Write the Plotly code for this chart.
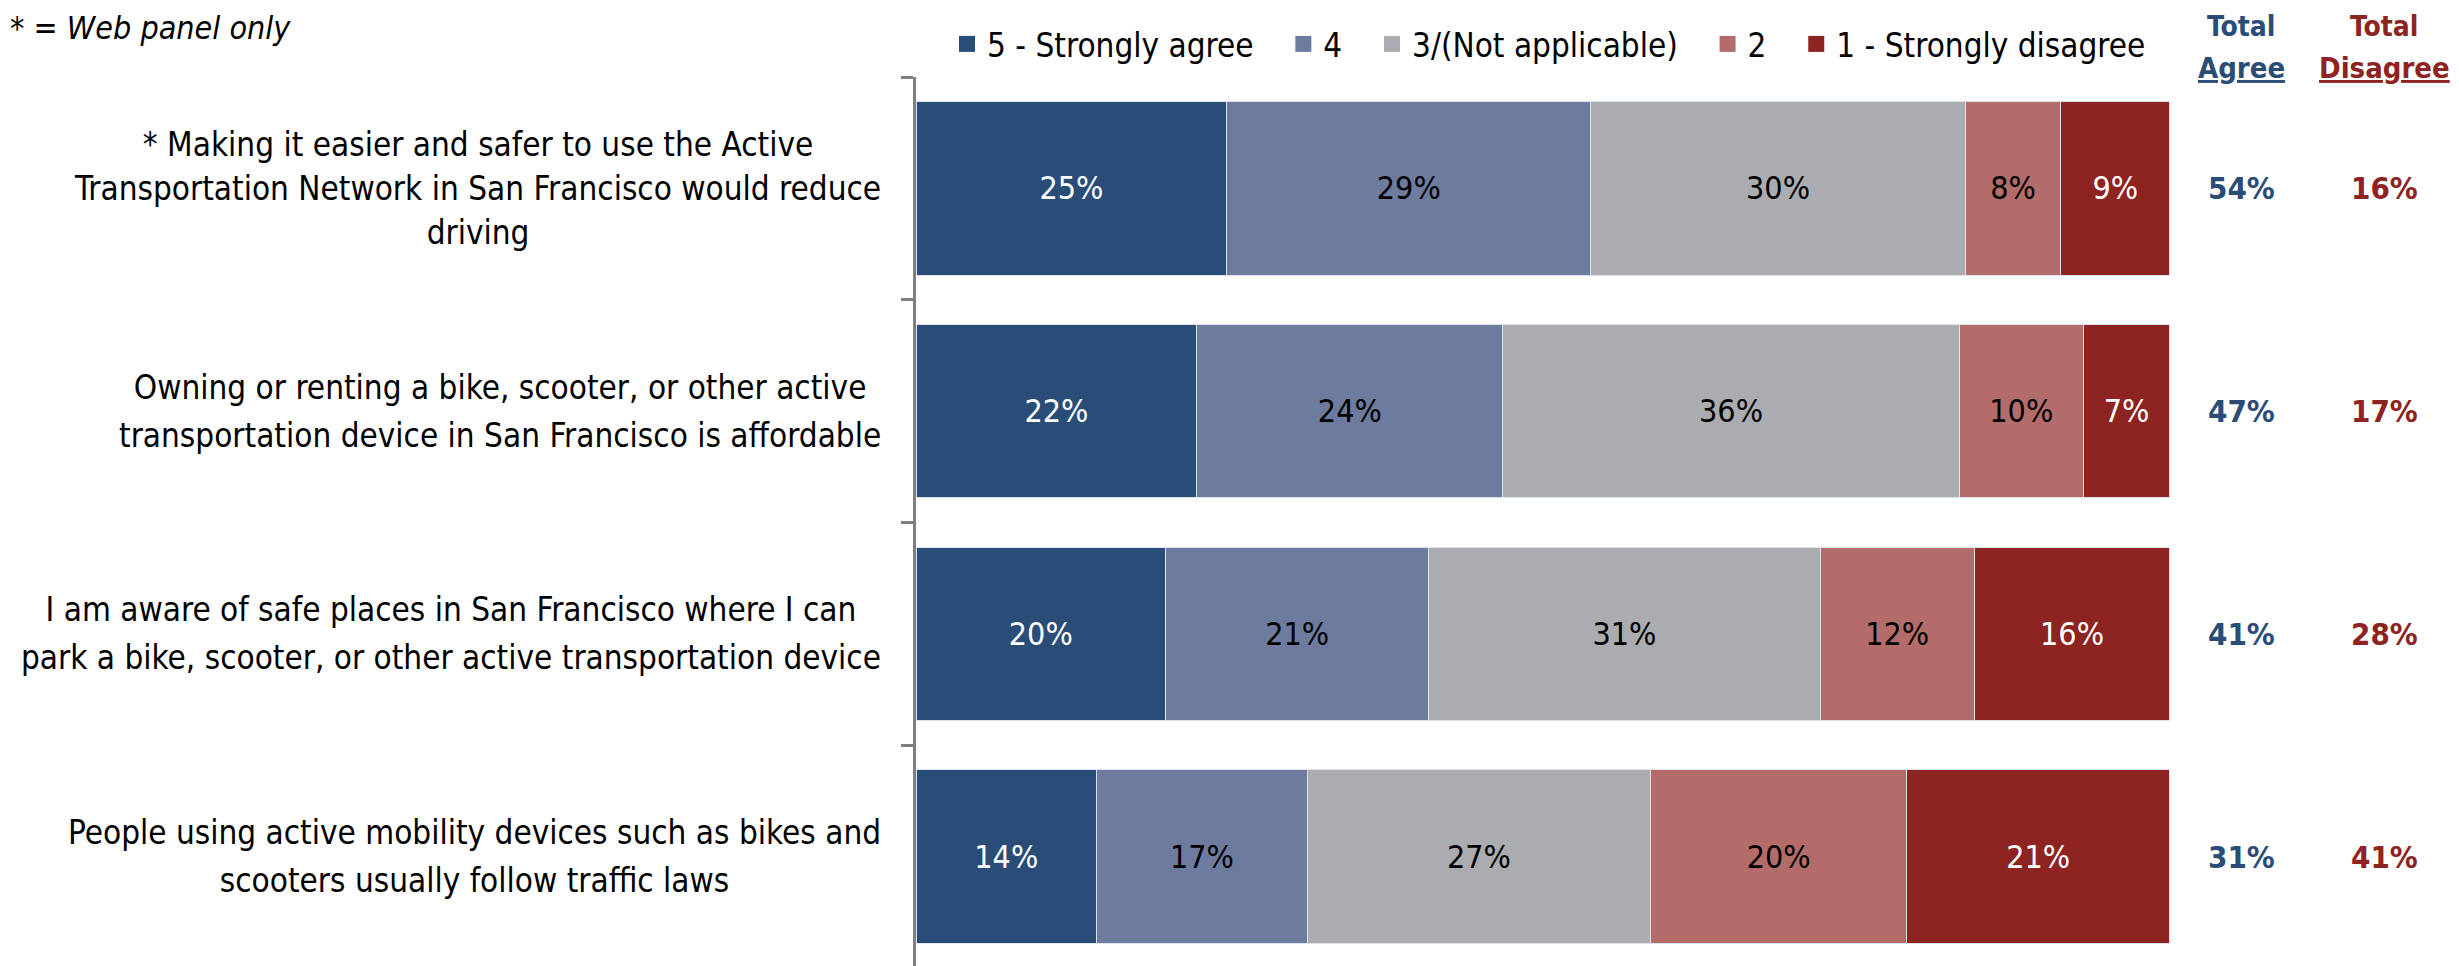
import plotly.graph_objects as go

FONT = "Liberation Sans Narrow, Arial Narrow, DejaVu Sans Condensed, Liberation Sans"

categories = ["Q1", "Q2", "Q3", "Q4"]
category_labels = [
    ["* Making it easier and safer to use the Active",
     "Transportation Network in San Francisco would reduce",
     "driving"],
    ["Owning or renting a bike, scooter, or other active",
     "transportation device in San Francisco is affordable"],
    ["I am aware of safe places in San Francisco where I can",
     "park a bike, scooter, or other active transportation device"],
    ["People using active mobility devices such as bikes and",
     "scooters usually follow traffic laws"],
]
series_names = ["5 - Strongly agree", "4", "3/(Not applicable)", "2", "1 - Strongly disagree"]
strongly_agree = [24.8, 22.4, 19.9, 14.4]
agree = [29.0, 24.4, 21.0, 16.8]
neutral = [29.9, 36.4, 31.2, 27.4]
disagree = [7.6, 9.9, 12.3, 20.4]
strongly_disagree = [8.7, 6.9, 15.6, 21.0]
total_agree = [54, 47, 41, 31]
total_disagree = [16, 17, 28, 41]

BLUE = "#2A4D77"
RED = "#8E2421"
colors = [BLUE, "#6D7B9E", "#ABACB0", "#B36C69", RED]
text_colors = ["white", "black", "black", "black", "white"]

fig = go.Figure()
for i, (name, vals, col, tcol) in enumerate(zip(
        series_names,
        [strongly_agree, agree, neutral, disagree, strongly_disagree],
        colors, text_colors)):
    fig.add_trace(go.Bar(
        y=categories, x=vals, name=name, orientation="h", showlegend=False,
        marker=dict(color=col, line=dict(color="#DCE3EC", width=1)),
        texttemplate="%{x:.0f}%", textposition="inside", insidetextanchor="middle",
        textfont=dict(color=tcol, size=32, family=FONT),
        hoverinfo="skip"))
    # legend entry with a bigger square swatch (trailing spaces widen the gaps)
    pad = "\u00a0\u00a0\u2009" if i < len(series_names) - 1 else ""
    fig.add_trace(go.Scatter(
        x=[None], y=[None], mode="markers", name=name + pad,
        marker=dict(symbol="square", size=20, color=col)))

# question labels: outer font size sets the line spacing, inner span the glyph size
for cat, lines in zip(categories, category_labels):
    spacing_size = 34 if len(lines) > 2 else 37
    text = "<br>".join(f"<span style='font-size:33px'>{ln}</span>" for ln in lines)
    fig.add_annotation(x=-0.021, y=cat, xref="paper", yref="y", text=text,
                       showarrow=False, xanchor="right", yanchor="middle", align="center",
                       font=dict(size=spacing_size, color="black", family=FONT))

# totals columns
AGREE_X = 105.7
DISAGREE_X = 117.1
for cat, ta, td in zip(categories, total_agree, total_disagree):
    fig.add_annotation(x=AGREE_X, y=cat, xref="x", yref="y", text=f"<b>{ta}%</b>",
                       showarrow=False, font=dict(size=31, color=BLUE, family=FONT))
    fig.add_annotation(x=DISAGREE_X, y=cat, xref="x", yref="y", text=f"<b>{td}%</b>",
                       showarrow=False, font=dict(size=31, color=RED, family=FONT))

for xpos, word, col in [(AGREE_X, "Agree", BLUE), (DISAGREE_X, "Disagree", RED)]:
    fig.add_annotation(x=xpos, y=1.0572, xref="x", yref="paper", yanchor="middle",
                       text="<b>Total</b>", showarrow=False,
                       font=dict(size=28, color=col, family=FONT))
    fig.add_annotation(x=xpos, y=1.0105, xref="x", yref="paper", yanchor="middle",
                       text=f"<b><u>{word}</u></b>", showarrow=False,
                       font=dict(size=29, color=col, family=FONT))

fig.add_annotation(x=-0.5854, y=1.055, xref="paper", yref="paper", xanchor="left",
                   yanchor="middle", text="<i>* = Web panel only</i>", showarrow=False,
                   font=dict(size=32, color="black", family=FONT))

fig.update_layout(
    width=2459, height=966, barmode="stack", bargap=0.221,
    plot_bgcolor="white", paper_bgcolor="white",
    margin=dict(l=908, r=0, t=69, b=6),
    font=dict(family=FONT, size=28, color="black"),
    legend=dict(orientation="h", x=0.02, y=1.0371, xanchor="left", yanchor="middle",
                font=dict(size=33), traceorder="normal", itemwidth=30),
    xaxis=dict(range=[0, 123.7], visible=False),
    yaxis=dict(autorange="reversed", showticklabels=False, ticks="outside",
               tickson="boundaries", ticklen=12, tickwidth=2.5, tickcolor="#7F7F7F",
               showline=True, linecolor="#7F7F7F", linewidth=2.5, showgrid=False),
)

fig.write_html("out.html")
